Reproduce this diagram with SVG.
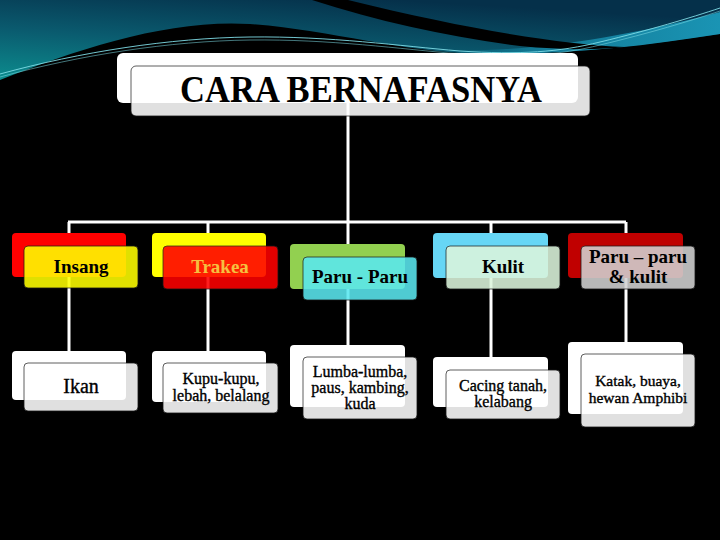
<svg xmlns="http://www.w3.org/2000/svg" width="720" height="540" viewBox="0 0 720 540">
  <defs>
    <linearGradient id="sky" x1="0" y1="1" x2="0.55" y2="0">
      <stop offset="0" stop-color="#0c8c8e"/>
      <stop offset="0.5" stop-color="#0a5a6e"/>
      <stop offset="1" stop-color="#05304a"/>
    </linearGradient>
    <linearGradient id="band" x1="0" y1="0" x2="1" y2="0">
      <stop offset="0" stop-color="#0e6f86" stop-opacity="0"/>
      <stop offset="0.4" stop-color="#127a96"/>
      <stop offset="1" stop-color="#1a94b4"/>
    </linearGradient>
    <style>
      .back { stroke: none; }
      .front { opacity: 0.88; stroke: #1a1a1a; stroke-width: 0.8; }
      .conn { stroke: #ffffff; stroke-width: 3; fill: none; }
      .head { font-family: "Liberation Serif", "DejaVu Serif", serif; font-weight: bold; font-size: 19px; text-anchor: middle; fill: #000; }
      .sub { font-family: "Liberation Serif", "DejaVu Serif", serif; font-size: 16px; text-anchor: middle; fill: #000; stroke: #000; stroke-width: 0.35; }
      .title { font-family: "Liberation Serif", "DejaVu Serif", serif; font-weight: bold; font-size: 38px; text-anchor: middle; fill: #000; }
      .swline { fill: none; stroke: #7fdde6; stroke-width: 0.9; }
    </style>
  </defs>

  <!-- background -->
  <rect x="0" y="0" width="720" height="540" fill="#000"/>
  <path d="M0,0 H720 V34 C640,46 560,55 480,54 C400,52 330,30 250,24 C170,19 80,48 0,80 Z" fill="url(#sky)"/>
  <path d="M420,49 C520,56 630,36 720,12 V34 C640,47 560,55 480,54 C455,53 438,52 420,49 Z" fill="url(#band)"/>
  <path d="M312,0 C380,22 450,37 520,46 C560,50 600,50 625,47 C560,44 470,30 348,0 Z" fill="#000"/>
  <path class="swline" d="M0,74 C80,52 170,38 250,37 C330,36 400,46 460,51 C520,55 560,52 600,42 C650,30 690,18 720,8"/>
  <path class="swline" d="M0,77 C80,55 170,41 250,40 C330,39 400,49 460,54 C520,58 560,55 600,45 C650,33 690,21 720,11" stroke-opacity="0.6"/>

  <!-- connectors -->
  <g id="connectors">
    <path class="conn" d="M348,103 V222"/>
    <path class="conn" d="M68,222 H626"/>
    <path class="conn" d="M69,222 V351"/>
    <path class="conn" d="M208,222 V351"/>
    <path class="conn" d="M348,222 V345"/>
    <path class="conn" d="M491,222 V357"/>
    <path class="conn" d="M626,222 V342"/>
  </g>

  <!-- title -->
  <g id="title">
    <rect class="back" x="117" y="53" width="461" height="50" rx="6" fill="#fff"/>
    <rect class="front" x="131" y="66" width="459" height="50" rx="5" fill="#fff"/>
    <text class="title" x="361" y="102" textLength="362" lengthAdjust="spacingAndGlyphs">CARA BERNAFASNYA</text>
  </g>

  <!-- level 1 -->
  <g id="insang">
    <rect class="back" x="12" y="233" width="114" height="44" rx="4" fill="#ff0000"/>
    <rect class="front" x="24" y="246" width="114" height="42" rx="4" fill="#ffff00"/>
    <text class="head" x="81" y="273">Insang</text>
  </g>
  <g id="trakea">
    <rect class="back" x="152" y="233" width="114" height="44" rx="4" fill="#ffff00"/>
    <rect class="front" x="163" y="246" width="115" height="43" rx="4" fill="#ff0000"/>
    <text class="head" x="220" y="273" style="fill:#f5c040">Trakea</text>
  </g>
  <g id="paru">
    <rect class="back" x="290" y="244" width="115" height="45" rx="4" fill="#92d050"/>
    <rect class="front" x="303" y="257" width="114" height="43" rx="4" fill="#5ae8f0"/>
    <text class="head" x="360" y="283">Paru - Paru</text>
  </g>
  <g id="kulit">
    <rect class="back" x="433" y="233" width="115" height="45" rx="4" fill="#66d6f5"/>
    <rect class="front" x="446" y="246" width="114" height="43" rx="4" fill="#dcf5dc"/>
    <text class="head" x="503" y="273">Kulit</text>
  </g>
  <g id="parukulit">
    <rect class="back" x="568" y="233" width="115" height="45" rx="4" fill="#c00000"/>
    <rect class="front" x="581" y="246" width="114" height="43" rx="4" fill="#d2d2d2"/>
    <text class="head" x="638" y="263">Paru – paru</text>
    <text class="head" x="638" y="283">&amp; kulit</text>
  </g>

  <!-- level 2 -->
  <g id="ikan">
    <rect class="back" x="12" y="351" width="114" height="49" rx="4" fill="#fff"/>
    <rect class="front" x="24" y="363" width="114" height="48" rx="4" fill="#fff"/>
    <text class="sub" x="81" y="393" style="font-size:20px">Ikan</text>
  </g>
  <g id="kupu">
    <rect class="back" x="152" y="351" width="114" height="51" rx="4" fill="#fff"/>
    <rect class="front" x="163" y="363" width="115" height="50" rx="4" fill="#fff"/>
    <text class="sub" x="221" y="384">Kupu-kupu,</text>
    <text class="sub" x="221" y="401">lebah, belalang</text>
  </g>
  <g id="lumba">
    <rect class="back" x="290" y="345" width="115" height="62" rx="4" fill="#fff"/>
    <rect class="front" x="303" y="357" width="114" height="62" rx="4" fill="#fff"/>
    <text class="sub" x="360" y="377">Lumba-lumba,</text>
    <text class="sub" x="360" y="393">paus, kambing,</text>
    <text class="sub" x="360" y="409">kuda</text>
  </g>
  <g id="cacing">
    <rect class="back" x="433" y="357" width="115" height="50" rx="4" fill="#fff"/>
    <rect class="front" x="446" y="370" width="114" height="49" rx="4" fill="#fff"/>
    <text class="sub" x="503" y="391">Cacing tanah,</text>
    <text class="sub" x="503" y="407">kelabang</text>
  </g>
  <g id="katak">
    <rect class="back" x="568" y="342" width="115" height="72" rx="4" fill="#fff"/>
    <rect class="front" x="581" y="354" width="114" height="73" rx="4" fill="#fff"/>
    <text class="sub" x="638" y="386" style="font-size:15.5px">Katak, buaya,</text>
    <text class="sub" x="638" y="403" style="font-size:15.5px">hewan Amphibi</text>
  </g>
</svg>
